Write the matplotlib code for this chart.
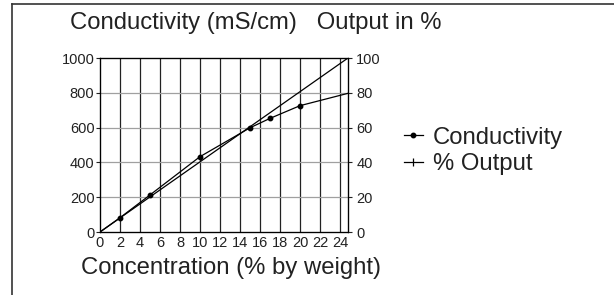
import matplotlib.pyplot as plt
from matplotlib.lines import Line2D

plt.rcParams['font.family'] = ['Liberation Sans', 'DejaVu Sans']

# concentration (% by weight) and conductivity (mS/cm)
conc = [0, 2, 5, 10, 15, 17, 20, 24.8]
conductivity = [0, 82, 213, 433, 599, 653, 726, 797]

# % output is a straight line over the range
out_conc = [0, 24.8]
out_pct = [0, 100]

x_ticks = list(range(0, 25, 2))
y_ticks = [0, 200, 400, 600, 800, 1000]
y2_ticks = [0, 20, 40, 60, 80, 100]

TEXT = '#222222'
BIG = 17.2

fig = plt.figure(figsize=(6.14, 2.95), dpi=100)
ax = fig.add_axes([100 / 614, 1 - 232 / 295, 248 / 614, 174 / 295])

ax.plot(conc, conductivity, color='black', lw=0.9, marker='o', ms=3.2,
        markevery=list(range(1, len(conc) - 1)))
ax.set_xlim(0, 24.8)
ax.set_ylim(0, 1000)
ax.set_xticks(x_ticks)
ax.set_yticks(y_ticks)

for x in x_ticks[1:]:
    ax.axvline(x, color='#222222', lw=0.9, zorder=0)
for y in y_ticks[1:-1]:
    ax.axhline(y, color='#a0a0a0', lw=0.9, zorder=0)

ax.tick_params(axis='both', labelsize=10.5, colors=TEXT, length=3, width=0.8, pad=1)
ax.tick_params(axis='x', length=0, pad=3)
for s in ax.spines.values():
    s.set_linewidth(0.9)

ax2 = ax.twinx()
ax2.plot(out_conc, out_pct, color='black', lw=0.9)
ax2.set_ylim(0, 100)
ax2.set_yticks(y2_ticks)
ax2.tick_params(axis='y', labelsize=10.5, colors=TEXT, length=3, width=0.8, pad=3)

fig.text(70 / 614, 1 - 23 / 295, 'Conductivity (mS/cm)   Output in %',
         fontsize=BIG, color=TEXT, va='center', ha='left')
fig.text(231 / 614, 1 - 268 / 295, 'Concentration (% by weight)',
         fontsize=BIG, color=TEXT, va='center', ha='center')

handles = [
    Line2D([], [], color='black', lw=0.9, marker='o', ms=3.2),
    Line2D([], [], color='black', lw=0.9, marker='|', ms=6, mew=0.9),
]
fig.legend(handles, ['Conductivity', '% Output'], loc='center left',
           bbox_to_anchor=(392 / 614, 1 - 151 / 295), frameon=False,
           fontsize=BIG, handlelength=0.8, handletextpad=0.4, labelspacing=0.2,
           labelcolor=TEXT, borderpad=0)

# border lines at top and left of the image
fig.add_artist(Line2D([12 / 614, 1], [1 - 4 / 295, 1 - 4 / 295],
                      transform=fig.transFigure, color='#333333', lw=1.2))
fig.add_artist(Line2D([12 / 614, 12 / 614], [0, 1 - 4 / 295],
                      transform=fig.transFigure, color='#333333', lw=1.2))

fig.savefig('out.png', dpi=100)
